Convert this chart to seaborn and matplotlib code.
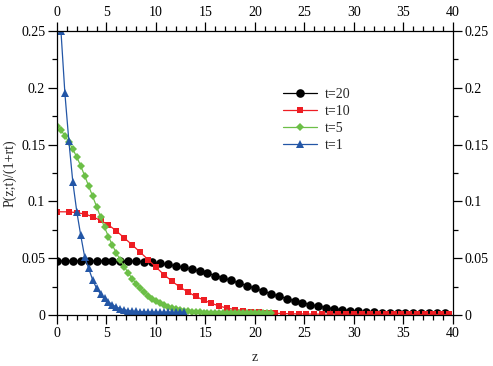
import matplotlib
matplotlib.use("Agg")
import matplotlib.pyplot as plt
from matplotlib.ticker import MultipleLocator, FuncFormatter
import pandas as pd
import seaborn as sns

# values
z_t20 = [0.0, 0.8, 1.6, 2.4, 3.2, 4.0, 4.8, 5.6, 6.4, 7.2,
         8.0, 8.8, 9.6, 10.4, 11.2, 12.0, 12.8, 13.6, 14.4, 15.2,
         16.0, 16.8, 17.6, 18.4, 19.2, 20.0, 20.8, 21.6, 22.4, 23.2,
         24.0, 24.8, 25.6, 26.4, 27.2, 28.0, 28.8, 29.6, 30.4, 31.2,
         32.0, 32.8, 33.6, 34.4, 35.2, 36.0, 36.8, 37.6, 38.4, 39.2]
p_t20 = [0.0476, 0.0476, 0.0476, 0.0476, 0.0476, 0.0476, 0.0476, 0.0476, 0.0476, 0.0475,
         0.0473, 0.0469, 0.0463, 0.0455, 0.0445, 0.0433, 0.0419, 0.0403, 0.0386, 0.0367,
         0.0347, 0.0326, 0.0304, 0.0281, 0.0258, 0.0235, 0.0211, 0.0188, 0.0166, 0.0145,
         0.0126, 0.0108, 0.0092, 0.0078, 0.0066, 0.0055, 0.0046, 0.0039, 0.0033, 0.0028,
         0.0025, 0.0022, 0.0020, 0.0018, 0.0017, 0.0016, 0.0015, 0.0015, 0.0014, 0.0014]

z_t10 = [0.0, 1.2, 2.0, 2.8, 3.6, 4.4, 5.2, 6.0, 6.8, 7.6,
         8.4, 9.2, 10.0, 10.8, 11.6, 12.4, 13.2, 14.0, 14.8, 15.6,
         16.4, 17.2, 18.0, 18.8, 19.6, 20.4, 21.2, 22.0, 22.8, 23.6,
         24.4, 25.2, 26.0, 26.8, 27.6, 28.4, 29.2, 30.0, 30.8, 31.6,
         32.4, 33.2, 34.0, 34.8, 35.6, 36.4, 37.2, 38.0, 38.8, 39.6]
p_t10 = [0.0909, 0.0908, 0.0901, 0.0889, 0.0866, 0.0832, 0.0793, 0.0740, 0.0678, 0.0617,
         0.0553, 0.0488, 0.0421, 0.0356, 0.0298, 0.0247, 0.0204, 0.0164, 0.0132, 0.0103,
         0.0079, 0.0060, 0.0048, 0.0038, 0.0030, 0.0024, 0.0019, 0.0015, 0.0013, 0.0011,
         0.0010, 0.0009, 0.0008, 0.0008, 0.0008, 0.0007, 0.0007, 0.0007, 0.0007, 0.0006,
         0.0006, 0.0006, 0.0006, 0.0006, 0.0005, 0.0005, 0.0005, 0.0005, 0.0005, 0.0005]

z_t5 = [0.0, 0.4, 0.8, 1.2, 1.6, 2.0, 2.4, 2.8, 3.2, 3.6,
        4.0, 4.4, 4.8, 5.2, 5.6, 6.0, 6.4, 6.8, 7.2, 7.6,
        8.0, 8.4, 8.8, 9.2, 9.6, 10.0, 10.4, 10.8, 11.2, 11.6,
        12.0, 12.4, 12.8, 13.2, 13.6, 14.0, 14.4, 14.8, 15.2, 15.6,
        16.0, 16.4, 16.8, 17.2, 17.6, 18.0, 18.4, 18.8, 19.2, 19.6,
        20.0, 20.4, 20.8, 21.2, 21.6]
p_t5 = [0.1667, 0.1625, 0.1580, 0.1522, 0.1460, 0.1390, 0.1312, 0.1225, 0.1135, 0.1045,
        0.0955, 0.0862, 0.0772, 0.0690, 0.0614, 0.0545, 0.0482, 0.0425, 0.0370, 0.0320,
        0.0276, 0.0236, 0.0200, 0.0170, 0.0144, 0.0122, 0.0103, 0.0087, 0.0073, 0.0062,
        0.0052, 0.0044, 0.0037, 0.0032, 0.0028, 0.0025, 0.0023, 0.0022, 0.0021, 0.0020,
        0.0020, 0.0019, 0.0019, 0.0018, 0.0018, 0.0018, 0.0017, 0.0017, 0.0017, 0.0016,
        0.0016, 0.0016, 0.0015, 0.0015, 0.0015]

z_t1 = [0.4, 0.8, 1.2, 1.6, 2.0, 2.4, 2.8, 3.2, 3.6, 4.0,
        4.4, 4.8, 5.2, 5.6, 6.0, 6.4, 6.8, 7.2, 7.6, 8.0,
        8.4, 8.8, 9.2, 9.6, 10.0, 10.4, 10.8, 11.2, 11.6, 12.0,
        12.4, 12.8]
p_t1 = [0.250, 0.195, 0.153, 0.117, 0.091, 0.070, 0.051, 0.041, 0.031, 0.0235,
        0.0185, 0.0147, 0.0117, 0.0090, 0.0070, 0.0056, 0.0046, 0.0039, 0.0034, 0.0031,
        0.0029, 0.0028, 0.0027, 0.0026, 0.0026, 0.0025, 0.0025, 0.0025, 0.0024, 0.0024,
        0.0024, 0.0024]

labels = ["t=20", "t=10", "t=5", "t=1"]

df = pd.concat([
    pd.DataFrame({"z": z_t20, "P": p_t20, "t": "t=20"}),
    pd.DataFrame({"z": z_t10, "P": p_t10, "t": "t=10"}),
    pd.DataFrame({"z": z_t5, "P": p_t5, "t": "t=5"}),
    pd.DataFrame({"z": z_t1, "P": p_t1, "t": "t=1"}),
], ignore_index=True)

styles = {
    "t=20": ("black", "o", 6.2),
    "t=10": ("#ee1d23", "s", 5.0),
    "t=5": ("#6cbf47", "D", 4.3),
    "t=1": ("#2356a6", "^", 6.2),
}

sns.set_style("ticks")
plt.rcParams["font.family"] = ["Liberation Serif", "DejaVu Serif"]

fig = plt.figure(figsize=(4.93, 3.66), dpi=100)
ax = fig.add_axes([0.1156, 0.1393, 0.8032, 0.7760])

for name in labels:
    color, marker, ms = styles[name]
    sns.lineplot(
        data=df[df["t"] == name],
        x="z",
        y="P",
        color=color,
        marker=marker,
        markersize=ms,
        markeredgewidth=0,
        linewidth=0.9,
        errorbar=None,
        label=name,
        ax=ax,
    )

ax.set_xlim(0, 40)
ax.set_ylim(0, 0.25)
ax.xaxis.set_major_locator(MultipleLocator(5))
ax.xaxis.set_minor_locator(MultipleLocator(1))
ax.yaxis.set_major_locator(MultipleLocator(0.05))
ax.yaxis.set_minor_locator(MultipleLocator(0.025))
ax.yaxis.set_major_formatter(FuncFormatter(lambda v, _: f"{v:g}"))

ax.tick_params(which="both", direction="out", top=True, right=True,
               labeltop=True, labelright=True, width=0.9,
               labelsize=10, colors="black")
ax.tick_params(which="major", length=6.5, pad=2)
ax.tick_params(which="minor", length=3.5)
for side in ax.spines.values():
    side.set_linewidth(0.9)
    side.set_color("black")

ax.set_xlabel("z", fontsize=10, labelpad=8)
ax.set_ylabel("P(z;t)/(1+rt)", fontsize=10, labelpad=3)

ax.legend(frameon=False, loc="upper left", bbox_to_anchor=(0.54, 0.845),
          fontsize=10, handlelength=2.4, labelspacing=0.3, handletextpad=0.6)

fig.savefig("out.png", dpi=100)
